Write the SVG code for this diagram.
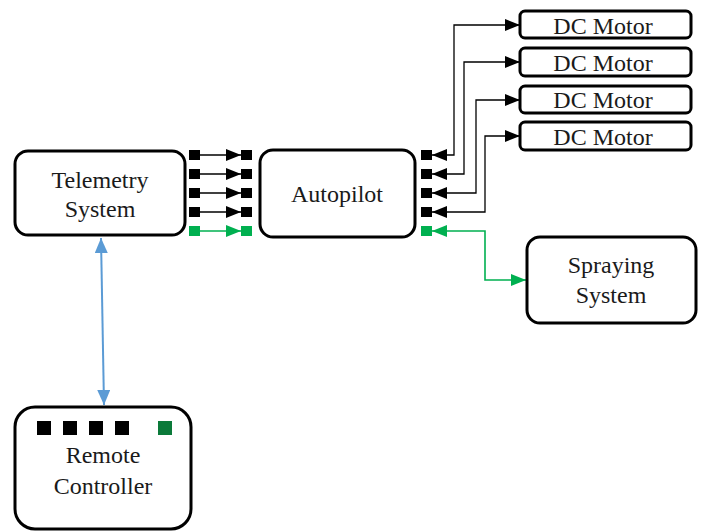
<svg xmlns="http://www.w3.org/2000/svg" width="705" height="531" viewBox="0 0 705 531">
<defs>
<style>
.box{fill:#fff;stroke:#000;stroke-width:3}
.lbl{font-size:24px;fill:#1a1a1a;text-anchor:middle}
.blk{fill:#000}
.grn{fill:#00B050}
.dgrn{fill:#0B7A3A}
.wb{fill:none;stroke:#000;stroke-width:1.3}
.wg{fill:none;stroke:#00B050;stroke-width:1.6}
.wbl{fill:none;stroke:#5B9BD5;stroke-width:2}
</style>
<marker id="ab" viewBox="0 0 10 10" preserveAspectRatio="none" refX="10" refY="5" markerUnits="userSpaceOnUse" markerWidth="15" markerHeight="12" orient="auto-start-reverse"><path d="M0 0L10 5L0 10z" fill="#000"/></marker>
<marker id="ag" viewBox="0 0 10 10" preserveAspectRatio="none" refX="10" refY="5" markerUnits="userSpaceOnUse" markerWidth="15" markerHeight="12" orient="auto-start-reverse"><path d="M0 0L10 5L0 10z" fill="#00B050"/></marker>
<marker id="abl" viewBox="0 0 10 10" preserveAspectRatio="none" refX="10" refY="5" markerUnits="userSpaceOnUse" markerWidth="15" markerHeight="13" orient="auto-start-reverse"><path d="M0 0L10 5L0 10z" fill="#5B9BD5"/></marker>
</defs>
<g id="connectors">
<path class="wb" d="M199 155H241" marker-end="url(#ab)"/>
<path class="wb" d="M199 174H241" marker-end="url(#ab)"/>
<path class="wb" d="M199 193H241" marker-end="url(#ab)"/>
<path class="wb" d="M199 212H241" marker-end="url(#ab)"/>
<path class="wg" d="M199 231H241" marker-end="url(#ag)"/>
<path class="wb" d="M432 155H454V25H520" marker-start="url(#ab)" marker-end="url(#ab)"/>
<path class="wb" d="M432 174H464V62H520" marker-start="url(#ab)" marker-end="url(#ab)"/>
<path class="wb" d="M432 193H476V100H520" marker-start="url(#ab)" marker-end="url(#ab)"/>
<path class="wb" d="M432 212H485V136H520" marker-start="url(#ab)" marker-end="url(#ab)"/>
<path class="wg" d="M432 231H485V280H526" marker-start="url(#ag)" marker-end="url(#ag)"/>
<path class="wbl" d="M101 238L104 405" marker-start="url(#abl)" marker-end="url(#abl)"/>
</g>
<g id="ports">
<rect class="blk" x="189" y="150" width="11" height="10"/>
<rect class="blk" x="189" y="169" width="11" height="10"/>
<rect class="blk" x="189" y="188" width="11" height="10"/>
<rect class="blk" x="189" y="207" width="11" height="10"/>
<rect class="grn" x="189" y="226" width="11" height="10"/>
<rect class="blk" x="241" y="150" width="11" height="10"/>
<rect class="blk" x="241" y="169" width="11" height="10"/>
<rect class="blk" x="241" y="188" width="11" height="10"/>
<rect class="blk" x="241" y="207" width="11" height="10"/>
<rect class="grn" x="241" y="226" width="11" height="10"/>
<rect class="blk" x="421" y="150" width="11" height="10"/>
<rect class="blk" x="421" y="169" width="11" height="10"/>
<rect class="blk" x="421" y="188" width="11" height="10"/>
<rect class="blk" x="421" y="207" width="11" height="10"/>
<rect class="grn" x="421" y="226" width="11" height="10"/>
</g>
<g font-family="Liberation Serif, Times New Roman, serif">
<g id="telemetry">
<rect class="box" x="15" y="151" width="170" height="84" rx="13"/>
<text class="lbl" x="100" y="188">Telemetry</text>
<text class="lbl" x="100" y="217">System</text>
</g>
<g id="autopilot">
<rect class="box" x="260" y="150" width="155" height="87" rx="13"/>
<text class="lbl" x="337" y="202">Autopilot</text>
</g>
<g id="motor1">
<rect class="box" x="520" y="11" width="171" height="27" rx="5"/>
<text class="lbl" x="603" y="34">DC Motor</text>
</g>
<g id="motor2">
<rect class="box" x="520" y="48" width="171" height="28" rx="5"/>
<text class="lbl" x="603" y="71">DC Motor</text>
</g>
<g id="motor3">
<rect class="box" x="520" y="86" width="171" height="27" rx="5"/>
<text class="lbl" x="603" y="108">DC Motor</text>
</g>
<g id="motor4">
<rect class="box" x="520" y="122" width="171" height="28" rx="5"/>
<text class="lbl" x="603" y="145">DC Motor</text>
</g>
<g id="spraying">
<rect class="box" x="527" y="237" width="169" height="86" rx="13"/>
<text class="lbl" x="611" y="273">Spraying</text>
<text class="lbl" x="611" y="303">System</text>
</g>
<g id="remote">
<rect class="box" x="15" y="407" width="176" height="122" rx="20"/>
<rect class="blk" x="37" y="421" width="14" height="14"/>
<rect class="blk" x="63" y="421" width="14" height="14"/>
<rect class="blk" x="89" y="421" width="14" height="14"/>
<rect class="blk" x="115" y="421" width="14" height="14"/>
<rect class="dgrn" x="158" y="421" width="14" height="14"/>
<text class="lbl" x="103" y="463">Remote</text>
<text class="lbl" x="103" y="494">Controller</text>
</g>
</g>
</svg>
